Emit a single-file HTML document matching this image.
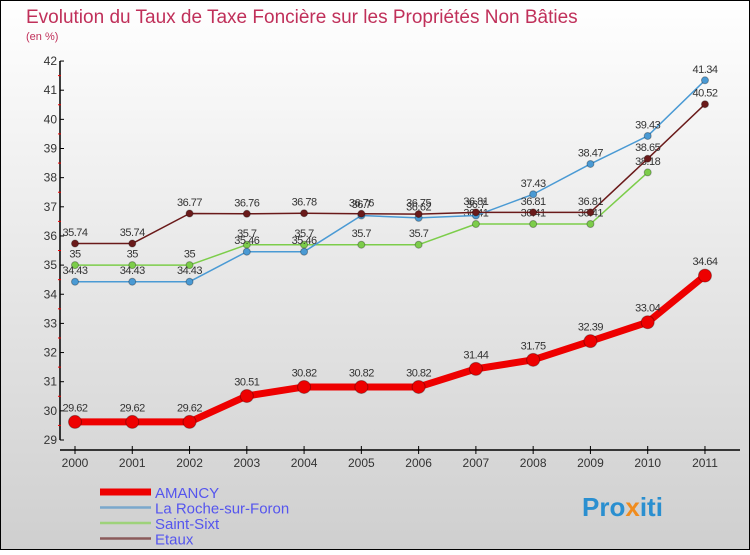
<!DOCTYPE html>
<html><head><meta charset="utf-8"><style>
body{margin:0;width:750px;height:550px;overflow:hidden;font-family:"Liberation Sans",sans-serif}
</style></head><body>
<svg width="750" height="550" xmlns="http://www.w3.org/2000/svg">
<defs><linearGradient id="bg" x1="0" y1="0" x2="0" y2="1"><stop offset="0" stop-color="#ffffff"/><stop offset="1" stop-color="#cfcfcf"/></linearGradient></defs>
<rect x="0.5" y="0.5" width="749" height="549" fill="url(#bg)" stroke="#000"/>
<text x="26" y="23" font-size="19" fill="#c0305a">Evolution du Taux de Taxe Foncière sur les Propriétés Non Bâties</text>
<text x="26" y="40" font-size="11" fill="#c0305a">(en %)</text>
<g id="axes"></g><g id="series"></g><g id="legend"></g>
<text x="582" y="516" font-size="26" font-weight="bold" fill="#2a8fd0">Pro<tspan fill="#f08c1e">x</tspan>iti</text>
</svg>
<script>
const years=[2000,2001,2002,2003,2004,2005,2006,2007,2008,2009,2010,2011];
const amancy=[29.62,29.62,29.62,30.51,30.82,30.82,30.82,31.44,31.75,32.39,33.04,34.64];
const roche=[34.43,34.43,34.43,35.46,35.46,36.7,36.62,36.7,37.43,38.47,39.43,41.34];
const sixt=[35,35,35,35.7,35.7,35.7,35.7,36.41,36.41,36.41,38.18,null];
const etaux=[35.74,35.74,36.77,36.76,36.78,36.76,36.75,36.81,36.81,36.81,38.65,40.52];
const yTicks=[29,30,31,32,33,34,35,36,37,38,39,40,41,42];
const NS="http://www.w3.org/2000/svg";
const X=i=>75+i*57.27, Y=v=>440-(v-29)*29.15;
function mk(p,t,a){const e=document.createElementNS(NS,t);for(const k in a)e.setAttribute(k,a[k]);p.appendChild(e);return e;}
const ax=document.getElementById('axes');
let l=mk(ax,'line',{x1:60,y1:61,x2:60,y2:440,stroke:'#000','stroke-width':1.5});


l=mk(ax,'line',{x1:60,y1:450,x2:740,y2:450,stroke:'#000','stroke-width':1.5});


yTicks.forEach((v,i)=>{
 mk(ax,'line',{x1:60,y1:Y(v),x2:64,y2:Y(v),stroke:'#000'});
 if(i<yTicks.length-1) mk(ax,'line',{x1:58,y1:Y(v+0.5),x2:61,y2:Y(v+0.5),stroke:'#e00'});
 const t=mk(ax,'text',{x:57,y:Y(v)+4,'font-size':12,fill:'#333','text-anchor':'end'});t.textContent=v;
 
 
});
years.forEach((y,i)=>{
 mk(ax,'line',{x1:X(i),y1:446,x2:X(i),y2:454,stroke:'#000'});
 const t=mk(ax,'text',{x:X(i),y:467,'font-size':12,fill:'#333','text-anchor':'middle'});t.textContent=y;
 
 
});
const sg=document.getElementById('series');
function draw(name,data,color,w,r,step){
 const g=mk(sg,'g',{});
 
 
 let d='';
 data.forEach((v,i)=>{if(v==null)return; const x=X(i),y=Y(v); if(i===0)d+='M'+x+','+y; else d+=(step?'H'+x+'V'+y:'L'+x+','+y);});
 mk(g,'path',{d:d,fill:'none',stroke:color,'stroke-width':w,'stroke-linejoin':'round'});
 data.forEach((v,i)=>{if(v==null)return;
  const c=mk(g,'circle',{cx:X(i),cy:Y(v),r:r,fill:color,stroke:'rgba(0,0,0,0.3)'});
  
  
  const t=mk(g,'text',{x:X(i),y:Y(v)-r-4,'font-size':11,fill:'#333','text-anchor':'middle','letter-spacing':'-0.5'});t.textContent=v;
  
  
 });
}
draw('saint-sixt',sixt,'#7ccd4a',1.5,3.5,false);
draw('la-roche',roche,'#4a9ad4',1.5,3.5,false);
draw('etaux',etaux,'#6a1a1a',1.5,3.5,false);
draw('amancy',amancy,'#ee0000',7,6.5,false);
const lg=document.getElementById('legend');
const items=[['AMANCY','#ee0000',7],['La Roche-sur-Foron','#7aa8cc',2.5],['Saint-Sixt','#9ed27a',2.5],['Etaux','#8a5a5a',2.5]];
items.forEach((it,i)=>{
 const y=492+i*15.5;
 mk(lg,'line',{x1:100,y1:y,x2:151,y2:y,stroke:it[1],'stroke-width':it[2]});
 const t=mk(lg,'text',{x:155,y:y+6,'font-size':15,fill:'#5555ee'});t.textContent=it[0];
 
 
});
</script>
</body></html>
